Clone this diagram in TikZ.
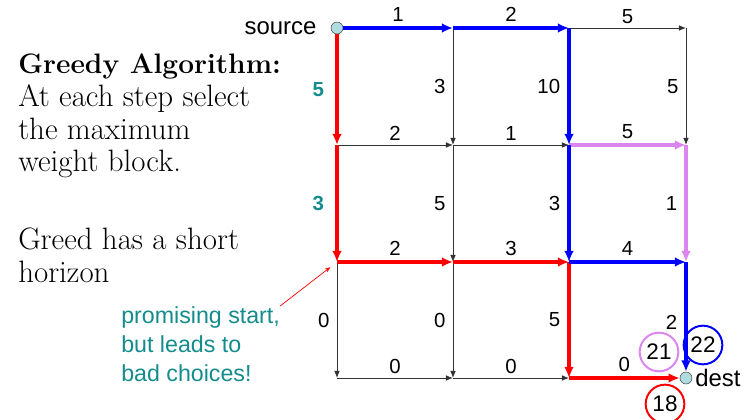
\documentclass[tikz,border=0pt]{standalone}
\usepackage{fontspec}
\setsansfont{Liberation Sans}
\usetikzlibrary{positioning,arrows.meta}
\definecolor{pathblue}{RGB}{0,0,255}
\definecolor{pathred}{RGB}{255,0,0}
\definecolor{pathviolet}{RGB}{218,134,238}
\definecolor{noteteal}{RGB}{20,140,140}
\definecolor{termfill}{RGB}{175,220,225}
\tikzset{
    term/.style={circle,draw=black!70,fill=termfill,minimum size=8.5pt,inner sep=0pt},
    termlbl/.style={font=\sffamily\fontsize{17}{19}\selectfont,inner sep=2pt},
    edge/.style={-{Latex[length=5pt,width=4pt]},line width=0.6pt,draw=black!80},
    blueway/.style={-{Latex[length=8pt,width=7pt]},line width=2.6pt,draw=pathblue},
    redway/.style={-{Latex[length=8pt,width=7pt]},line width=2.6pt,draw=pathred},
    violetway/.style={-{Latex[length=8pt,width=7pt]},line width=2.6pt,draw=pathviolet},
    wt/.style={font=\sffamily\fontsize{14.5}{16}\selectfont,inner sep=1pt,text=black},
    hw/.style={wt,above=2pt},
    vw/.style={wt,left=4pt},
    keyw/.style={wt,left=7pt,text=noteteal,font=\sffamily\bfseries\fontsize{14.5}{16}\selectfont},
    prose/.style={align=left,inner sep=0pt,font=\fontsize{22}{23.2}\selectfont},
    note/.style={align=left,inner sep=0pt,text=noteteal,font=\sffamily\fontsize{16.5}{20.6}\selectfont},
    notearrow/.style={-{Stealth[length=4pt,width=3pt]},line width=0.5pt,draw=pathred,shorten >=6pt},
    score/.style={circle,line width=1.4pt,minimum size=27.5pt,inner sep=0pt,font=\sffamily\fontsize{16}{18}\selectfont},
}

\begin{document}
\begin{tikzpicture}[x=0.025cm,y=-0.025cm]
\useasboundingbox (0,0) rectangle (750,420);

% grid points
\node[term] (n00) at (337,28) {};
\coordinate (n01) at (453,28);
\coordinate (n02) at (569,28);
\coordinate (n03) at (686,28);
\coordinate (n10) at (337,145);
\coordinate (n11) at (453,145);
\coordinate (n12) at (569,145);
\coordinate (n13) at (686,145);
\coordinate (n20) at (337,262);
\coordinate (n21) at (453,262);
\coordinate (n22) at (569,262);
\coordinate (n23) at (686,262);
\coordinate (n30) at (337,378);
\coordinate (n31) at (453,378);
\coordinate (n32) at (569,378);
\node[term] (n33) at (686,378) {};

\node[termlbl,left=8pt of n00] (srclbl) {source};
\node[termlbl,right=0pt of n33] (dstlbl) {dest};

% text on the left
\node[prose,anchor=north west] (greedy) at (18,54)
    {{\fontsize{20}{23.2}\selectfont\textbf{Greedy Algorithm:}}\\At each step select\\the maximum\\weight block.};
\node[prose,anchor=north west] (horizon) at (18,228) {Greed has a short\\horizon};
\node[note,anchor=north west] (why) at (121,306) {promising start,\\but leads to\\bad choices!};

% plain edges
\draw[edge] (n02) -- node[hw]{5} (n03);
\draw[edge] (n10) -- node[hw]{2} (n11);
\draw[edge] (n11) -- node[hw]{1} (n12);
\draw[edge] (n30) -- node[hw]{0} (n31);
\draw[edge] (n31) -- node[hw]{0} (n32);
\draw[edge] (n20) -- node[vw]{0} (n30);
\draw[edge] (n01) -- node[vw]{3} (n11);
\draw[edge] (n11) -- node[vw]{5} (n21);
\draw[edge] (n21) -- node[vw]{0} (n31);
\draw[edge] (n03) -- node[vw]{5} (n13);

% second best path
\draw[violetway] (n12) -- node[hw]{5} (n13);
\draw[violetway] (n13) -- node[vw]{1} (n23);

% greedy path
\draw[redway] (n00) -- node[keyw]{5} (n10);
\draw[redway] (n10) -- node[keyw]{3} (n20);
\draw[redway] (n20) -- node[hw]{2} (n21);
\draw[redway] (n21) -- node[hw]{3} (n22);
\draw[redway] (n22) -- node[vw]{5} (n32);
\draw[redway] (n32) -- node[hw]{0} (n33);

% best path
\draw[blueway] (n00) -- node[hw]{1} (n01);
\draw[blueway] (n01) -- node[hw]{2} (n02);
\draw[blueway] (n02) -- node[vw]{10} (n12);
\draw[blueway] (n12) -- node[vw]{3} (n22);
\draw[blueway] (n22) -- node[hw]{4} (n23);
\draw[blueway] (n23) -- node[vw,pos=0.55]{2} (n33);

\draw[notearrow] (why.north east) -- (n20);

% path totals
\node[score,draw=pathviolet] (s21) at (659,352) {21};
\node[score,draw=pathblue] (s22) at (703,345) {22};
\node[score,draw=pathred] (s18) at (665,404) {18};
\end{tikzpicture}
\end{document}
